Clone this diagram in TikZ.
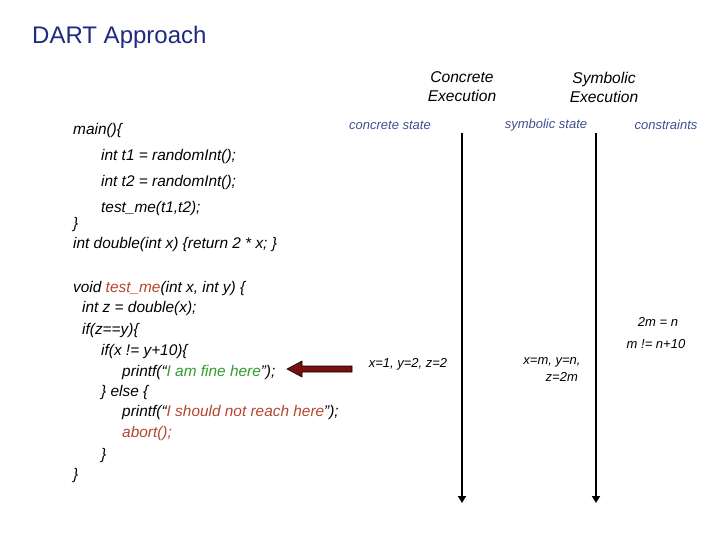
\documentclass[tikz,border=0pt]{standalone}
\usepackage{fontspec}
\setmainfont{Liberation Sans}
\usetikzlibrary{arrows.meta}
\definecolor{ttl}{HTML}{1F2A80}
\definecolor{lbl}{HTML}{3F4F8F}
\definecolor{rd}{HTML}{B5452E}
\definecolor{gr}{HTML}{2E9E2E}
\definecolor{maroon}{HTML}{7A0F0F}
\begin{document}
\begin{tikzpicture}[x=1pt,y=-1pt,
 code/.style={anchor=west,inner sep=0pt,font=\fontsize{15.4}{18}\selectfont\itshape},
 small/.style={inner sep=0pt,font=\fontsize{13}{15}\selectfont\itshape,color=lbl},
 head/.style={inner sep=0pt,align=center,font=\fontsize{15.6}{19}\selectfont\itshape}]
\useasboundingbox (0,0) rectangle (720,540);
\node[anchor=west,inner sep=0pt,color=ttl,font=\fontsize{24}{28}\selectfont] (t) at (32,37) {DART Approach};
\node[head] (ce) at (462,87) {Concrete\\Execution};
\node[head] (se) at (604,87) {Symbolic\\Execution};
\node[small] (cs) at (390,125) {concrete state};
\node[small] (ss) at (546,125) {symbolic state};
\node[small] (cn) at (666,125) {constraints};
\node[code] (c1) at (73,131) {main()\{};
\node[code] (c2) at (101,157) {int t1 = randomInt();};
\node[code] (c3) at (101,183) {int t2 = randomInt();};
\node[code] (c4) at (101,209) {test\_me(t1,t2);};
\node[code] (c5) at (73,225) {\}};
\node[code] (c6) at (73,245) {int double(int x) \{return 2 * x; \}};
\node[code] (c7) at (73,289) {void \textcolor{rd}{test\_me}(int x, int y) \{};
\node[code] (c8) at (82,309) {int z = double(x);};
\node[code] (c9) at (82,331) {if(z==y)\{};
\node[code] (c10) at (101,352) {if(x != y+10)\{};
\node[code] (c11) at (122,373) {printf(``\textcolor{gr}{I am fine here}'');};
\node[code] (c12) at (101,393) {\} else \{};
\node[code] (c13) at (122,413) {printf(``\textcolor{rd}{I should not reach here}'');};
\node[code] (c14) at (122,434) {\textcolor{rd}{abort();}};
\node[code] (c15) at (101,456) {\}};
\node[code] (c16) at (73,476) {\}};
\node[small,color=black] (v1) at (408,364) {x=1, y=2, z=2};
\node[small,color=black,align=center,font=\fontsize{13}{17}\selectfont\itshape] (v2) at (552,370) {x=m, y=n,\\\hspace*{1.5em}z=2m};
\node[small,color=black] (k1) at (658,322) {2m = n};
\node[small,color=black] (k2) at (656,344) {m != n+10};
\coordinate (a1) at (462,133); \coordinate (a2) at (462,503);
\coordinate (b1) at (596,133); \coordinate (b2) at (596,503);
\draw[line width=2pt,-{Triangle[length=7pt,width=8pt]}] (a1) -- (a2);
\draw[line width=2pt,-{Triangle[length=7pt,width=8pt]}] (b1) -- (b2);
\draw[fill=maroon,draw=black,line width=0.6pt] (352,366) -- (302,366) -- (302,361) -- (287,369) -- (302,377) -- (302,372) -- (352,372) -- cycle;
\end{tikzpicture}
\end{document}
